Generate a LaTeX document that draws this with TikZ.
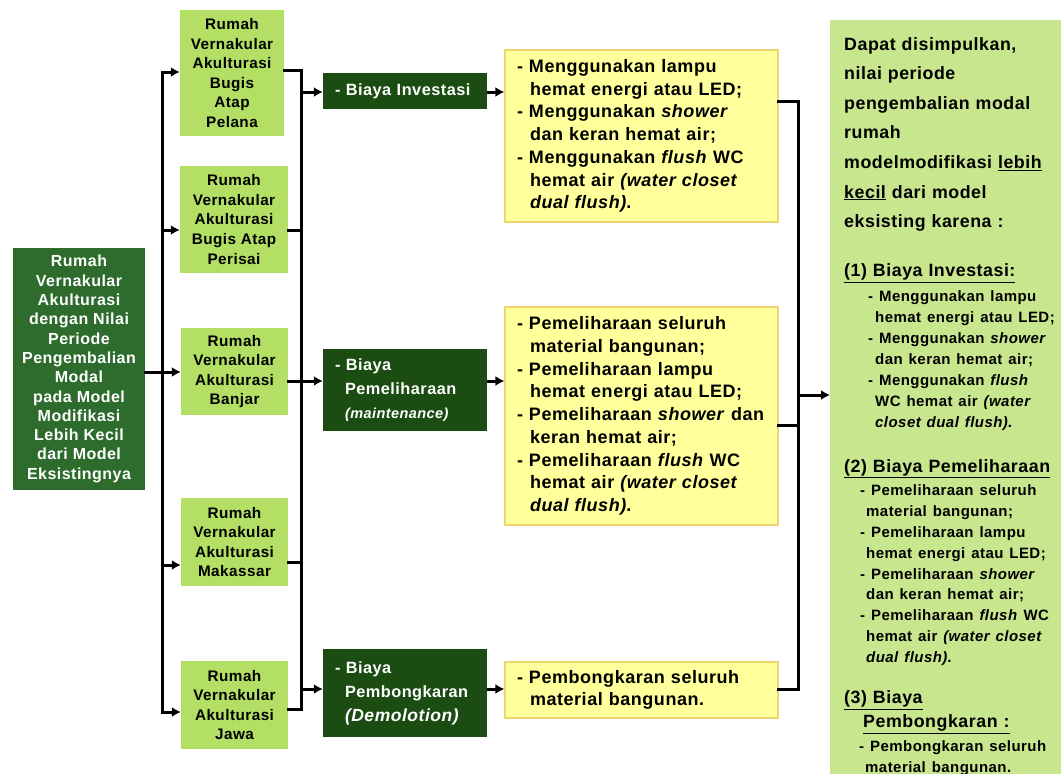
\documentclass[tikz,border=0pt]{standalone}
\usepackage{fontspec}
\setmainfont[LetterSpace=3]{Liberation Sans}
\usetikzlibrary{arrows.meta}

\definecolor{deepgreen}{RGB}{45,108,45}
\definecolor{leaf}{RGB}{178,223,100}
\definecolor{darkleaf}{RGB}{27,76,18}
\definecolor{paleyellow}{RGB}{255,255,155}
\definecolor{goldline}{RGB}{240,212,110}
\definecolor{sage}{RGB}{200,230,142}

\newcommand{\lnindent}{\hspace*{13pt}}
\newcommand{\listfont}{\fontsize{15}{20.9}\selectfont}

\tikzset{
  rumahbox/.style={fill=deepgreen, text=white, align=center, inner sep=0pt,
    minimum width=132pt, minimum height=242pt,
    font=\bfseries\fontsize{16}{19.3}\selectfont},
  housebox/.style={fill=leaf, align=center, inner sep=0pt, minimum width=107pt,
    font=\bfseries\fontsize{15.3}{19.6}\selectfont},
  costbox/.style={fill=darkleaf, text=white, align=left, text width=140pt,
    inner xsep=12pt, inner ysep=0pt, font=\bfseries\fontsize{16.3}{24}\selectfont},
  notebox/.style={fill=paleyellow, draw=goldline, line width=1.2pt, align=left,
    text width=249pt, inner xsep=12pt, inner ysep=0pt,
    font=\bfseries\fontsize{18}{22.7}\selectfont},
  linkline/.style={line width=3pt, line cap=rect},
  arrowline/.style={line width=3pt, -{Latex[length=9pt,width=10pt]}},
}

\begin{document}
\begin{tikzpicture}[x=1pt,y=-1pt]
\fill[white] (0,0) rectangle (1061,774);
\useasboundingbox (0,0) rectangle (1061,774);

% starting point
\node[rumahbox] (rumah) at (79,369) {Rumah\\Vernakular\\Akulturasi\\dengan Nilai\\Periode\\Pengembalian\\Modal\\pada Model\\Modifikasi\\Lebih Kecil\\dari Model\\Eksistingnya};

% the five houses
\node[housebox, minimum width=104pt, minimum height=126pt] (pelana) at (232,73) {Rumah\\Vernakular\\Akulturasi\\Bugis\\Atap\\Pelana};
\node[housebox, minimum width=108pt, minimum height=107pt] (perisai) at (234,219.5) {Rumah\\Vernakular\\Akulturasi\\Bugis Atap\\Perisai};
\node[housebox, minimum height=87pt] (banjar) at (234.5,371.5) {Rumah\\Vernakular\\Akulturasi\\Banjar};
\node[housebox, minimum height=88pt] (makassar) at (234.5,542) {Rumah\\Vernakular\\Akulturasi\\Makassar};
\node[housebox, minimum height=88pt] (jawa) at (234.5,705) {Rumah\\Vernakular\\Akulturasi\\Jawa};

% cost items
\node[costbox, minimum height=36pt] (inv) at (405,91) {- Biaya Investasi};
\node[costbox, minimum height=82pt] (pem) at (405,390) {- Biaya\\
  \hspace*{10pt}Pemeliharaan\\
  \hspace*{10pt}{\fontsize{14.5}{24}\selectfont\itshape(maintenance)}};
\node[costbox, minimum height=88pt] (bong) at (405,693) {- Biaya\\
  \hspace*{10pt}Pembongkaran\\
  \hspace*{10pt}{\fontsize{17.5}{24}\selectfont\itshape(Demolotion)}};

% what each cost covers
\node[notebox, minimum height=172pt] (tipsA) at (641.5,136) {- Menggunakan lampu\\
  \lnindent hemat energi atau LED;\\
  - Menggunakan \textit{shower}\\
  \lnindent dan keran hemat air;\\
  - Menggunakan \textit{flush} WC\\
  \lnindent hemat air \textit{(water closet}\\
  \lnindent \textit{dual flush)}.};
\node[notebox, minimum height=218pt] (tipsB) at (641.5,416) {- Pemeliharaan seluruh\\
  \lnindent material bangunan;\\
  - Pemeliharaan lampu\\
  \lnindent hemat energi atau LED;\\
  - Pemeliharaan \textit{shower} dan\\
  \lnindent keran hemat air;\\
  - Pemeliharaan \textit{flush} WC\\
  \lnindent hemat air \textit{(water closet}\\
  \lnindent \textit{dual flush)}.};
\node[notebox, minimum height=56pt] (tipsC) at (641.5,690) {- Pembongkaran seluruh\\
  \lnindent material bangunan.};

% conclusion
\node[fill=sage, anchor=north west, align=left, text width=230pt,
  inner xsep=14pt, inner ysep=17pt, font=\bfseries\fontsize{17.8}{20.9}\selectfont]
  (concl) at (830,20) {Dapat disimpulkan,\\[8.7pt]
  nilai periode\\[8.7pt]
  pengembalian modal\\[8.7pt]
  rumah\\[8.7pt]
  modelmodifikasi \underline{lebih}\\[8.7pt]
  \underline{kecil} dari model\\[8.7pt]
  eksisting karena :\\[28.2pt]
  \underline{(1) Biaya Investasi:}\\[4.2pt]
  {\listfont\hspace*{24pt}- Menggunakan lampu}\\
  {\listfont\hspace*{31pt}hemat energi atau LED;}\\
  {\listfont\hspace*{24pt}- Menggunakan \textit{shower}}\\
  {\listfont\hspace*{31pt}dan keran hemat air;}\\
  {\listfont\hspace*{24pt}- Menggunakan \textit{flush}}\\
  {\listfont\hspace*{31pt}WC hemat air \textit{(water}}\\
  {\listfont\hspace*{31pt}\textit{closet dual flush)}.}\\[24.2pt]
  \underline{(2) Biaya Pemeliharaan}\\[2.2pt]
  {\listfont\hspace*{16pt}- Pemeliharaan seluruh}\\
  {\listfont\hspace*{22pt}material bangunan;}\\
  {\listfont\hspace*{16pt}- Pemeliharaan lampu}\\
  {\listfont\hspace*{22pt}hemat energi atau LED;}\\
  {\listfont\hspace*{16pt}- Pemeliharaan \textit{shower}}\\
  {\listfont\hspace*{22pt}dan keran hemat air;}\\
  {\listfont\hspace*{16pt}- Pemeliharaan \textit{flush} WC}\\
  {\listfont\hspace*{22pt}hemat air \textit{(water closet}}\\
  {\listfont\hspace*{22pt}\textit{dual flush)}.}\\[20.2pt]
  \underline{(3) Biaya}\\[3.2pt]
  \hspace*{19pt}\underline{Pembongkaran :}\\[3.2pt]
  {\listfont\hspace*{15pt}- Pembongkaran seluruh}\\
  {\listfont\hspace*{21pt}material bangunan.}};

% bus lines
\coordinate (busL) at (162,0);
\coordinate (busM) at (301,0);
\coordinate (busR) at (798,0);
\draw[linkline] (busL |- 0,72) -- (busL |- 0,712);
\draw[linkline] (busM |- 0,70) -- (busM |- 0,709);
\draw[linkline] (busR |- 0,101) -- (busR |- 0,689);

% links
\draw[linkline] (rumah.east |- 0,372) -- (busL |- 0,372);
\foreach \h/\yi/\yo in {pelana/72/70, perisai/230/230, banjar/372/381, makassar/565/562, jawa/712/709} {
  \draw[arrowline] (busL |- 0,\yi) -- (\h.west |- 0,\yi);
  \draw[linkline] (\h.east |- 0,\yo) -- (busM |- 0,\yo);
}
\foreach \c/\n/\y in {inv/tipsA/92, pem/tipsB/381, bong/tipsC/689} {
  \draw[arrowline] (busM |- 0,\y) -- (\c.west |- 0,\y);
  \draw[arrowline] (\c.east |- 0,\y) -- (\n.west |- 0,\y);
}
\foreach \n/\y in {tipsA/101, tipsB/425, tipsC/689}
  \draw[linkline] (\n.east |- 0,\y) -- (busR |- 0,\y);
\draw[arrowline] (busR |- 0,395) -- (concl.west |- 0,395);
\end{tikzpicture}
\end{document}
